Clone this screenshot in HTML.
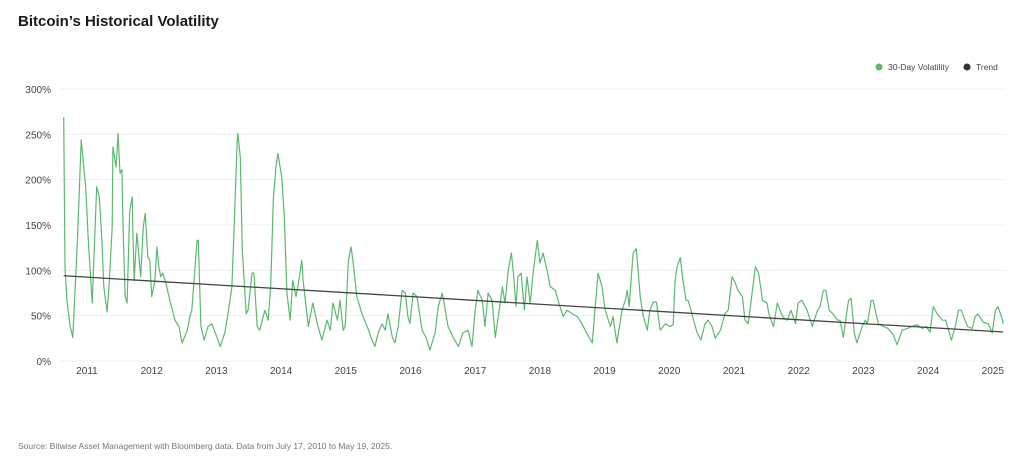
<!DOCTYPE html>
<html><head><meta charset="utf-8"><style>
body{margin:0;background:#fff;width:1024px;height:464px;overflow:hidden;font-family:"Liberation Sans",sans-serif;}
</style></head><body>
<svg width="1024" height="464" style="position:absolute;left:0;top:0">
<text x="18" y="26" font-size="15" font-weight="bold" fill="#1a1a1a">Bitcoin’s Historical Volatility</text>
<g>
<circle cx="879" cy="67" r="3.5" fill="#5cb870"/>
<text x="888" y="70" font-size="8.5" fill="#444">30-Day Volatility</text>
<circle cx="967" cy="67" r="3.5" fill="#333"/>
<text x="976" y="70" font-size="8.5" fill="#444">Trend</text>
</g>
<g id="grid"></g><g id="yt"></g><g id="xt"></g><g id="series"></g>
<text x="18" y="449" font-size="8.5" fill="#777">Source: Bitwise Asset Management with Bloomberg data. Data from July 17, 2010 to May 19, 2025.</text>
</svg>
<script>
const yTicks=[0,50,100,150,200,250,300];
const years=[2011,2012,2013,2014,2015,2016,2017,2018,2019,2020,2021,2022,2023,2024,2025];
const dates=[2010.64,2010.66,2010.69,2010.74,2010.78,2010.85,2010.88,2010.91,2010.94,2010.98,2011.02,2011.03,2011.08,2011.11,2011.15,2011.19,2011.23,2011.26,2011.31,2011.34,2011.39,2011.40,2011.45,2011.48,2011.51,2011.54,2011.56,2011.59,2011.62,2011.66,2011.70,2011.71,2011.73,2011.77,2011.79,2011.83,2011.87,2011.90,2011.94,2011.97,2012.00,2012.05,2012.08,2012.11,2012.14,2012.17,2012.22,2012.28,2012.36,2012.42,2012.47,2012.55,2012.59,2012.62,2012.70,2012.72,2012.76,2012.81,2012.87,2012.93,2013.01,2013.06,2013.13,2013.18,2013.24,2013.27,2013.32,2013.33,2013.37,2013.40,2013.46,2013.49,2013.55,2013.58,2013.63,2013.67,2013.75,2013.80,2013.84,2013.88,2013.92,2013.95,2014.01,2014.05,2014.09,2014.14,2014.18,2014.23,2014.26,2014.32,2014.34,2014.42,2014.49,2014.56,2014.63,2014.71,2014.76,2014.80,2014.87,2014.91,2014.96,
2014.99,2015.04,2015.08,2015.11,2015.17,2015.25,2015.33,2015.39,2015.45,2015.50,2015.56,2015.61,2015.65,2015.72,2015.76,2015.81,2015.87,2015.92,2015.96,2015.99,2016.04,2016.10,2016.18,2016.24,2016.30,2016.38,2016.43,2016.49,2016.52,2016.58,2016.66,2016.74,2016.81,2016.89,2016.95,2017.00,2017.04,2017.11,2017.15,2017.20,2017.26,2017.31,2017.35,2017.42,2017.46,2017.51,2017.56,2017.59,2017.63,2017.66,2017.71,2017.76,2017.80,2017.85,2017.90,2017.96,2018.00,2018.05,2018.11,2018.16,2018.24,2018.28,2018.36,2018.42,2018.50,2018.58,2018.65,2018.70,2018.76,2018.81,2018.85,2018.90,2018.96,2019.01,2019.09,2019.13,2019.19,2019.27,2019.32,2019.35,2019.38,2019.44,2019.49,2019.55,2019.60,2019.66,2019.70,2019.75,2019.80,2019.86,2019.94,2020.01,
2020.06,2020.09,2020.12,2020.17,2020.21,2020.26,2020.29,2020.35,2020.43,2020.49,2020.55,2020.60,2020.66,2020.71,2020.79,2020.86,2020.91,2020.97,2021.02,2021.06,2021.13,2021.17,2021.22,2021.28,2021.33,2021.38,2021.44,2021.51,2021.54,2021.61,2021.67,2021.75,2021.82,2021.88,2021.95,2021.99,2022.05,2022.13,2022.21,2022.29,2022.33,2022.38,2022.42,2022.47,2022.53,2022.60,2022.64,2022.69,2022.77,2022.81,2022.86,2022.90,2022.98,2023.03,2023.06,2023.12,2023.15,2023.23,2023.31,2023.38,2023.46,2023.52,2023.60,2023.68,2023.75,2023.83,2023.91,2023.97,2024.03,2024.08,2024.14,2024.22,2024.27,2024.30,2024.36,2024.42,2024.47,2024.51,2024.61,2024.68,2024.73,2024.77,2024.85,2024.93,2024.99,2025.04,2025.08,2025.15,2025.16];
const vol=[269,104,67,38,26,130,185,244,222,192,133,122,64,119,192,181,133,82,54,82,148,236,214,251,207,211,141,71,64,166,181,141,89,141,126,93,148,163,115,111,71,89,126,104,93,97,86,67,45,38,20,34,49,56,133,133,38,23,38,41,26,16,31,52,82,141,240,251,225,122,52,56,97,97,38,34,56,45,82,178,214,229,203,159,75,45,89,71,82,111,89,38,64,41,23,45,34,64,45,67,34,38,
111,126,111,71,52,38,26,16,31,41,34,52,26,20,38,78,75,49,41,75,71,34,26,12,31,60,75,64,38,26,16,31,34,16,56,78,67,38,75,67,26,45,82,64,100,119,97,60,93,97,56,93,64,100,133,108,119,100,82,78,67,49,56,52,49,41,34,26,20,56,97,82,56,38,49,20,56,67,78,60,119,124,71,49,34,56,65,65,34,41,38,40,
89,104,114,89,67,67,52,31,23,41,45,38,25,34,52,56,93,86,78,71,45,41,75,104,97,67,64,52,38,64,49,45,56,41,64,67,56,38,56,60,78,78,56,52,45,45,26,67,69,31,20,38,45,41,67,67,41,38,36,29,18,34,36,38,40,36,38,32,60,52,45,45,38,23,38,56,56,38,36,49,52,43,41,31,56,60,45,41,29];
const trendDates=[2010.64,2025.16];
const trendVals=[94,32];
const NS="http://www.w3.org/2000/svg";
const X=t=>87+(t-2011)*64.7;
const Y=v=>361-v*0.9067;
function mk(tag,attrs,parent){const e=document.createElementNS(NS,tag);for(const k in attrs)e.setAttribute(k,attrs[k]);document.getElementById(parent).appendChild(e);return e;}
yTicks.forEach(v=>{
 const g=mk('line',{x1:60,x2:1006,y1:Y(v),y2:Y(v),stroke:'#efefef','stroke-width':1},'grid');
 
 
 const t=mk('text',{x:51,y:Y(v)+4,'font-size':10,fill:'#444','text-anchor':'end'},'yt');
 t.textContent=v+'%';
 
 
});
years.forEach(y=>{
 const t=mk('text',{x:X(y),y:374,'font-size':10,fill:'#444','text-anchor':'middle'},'xt');
 t.textContent=y;
 
 
});
const vl=mk('polyline',{points:dates.map((d,i)=>X(d).toFixed(1)+','+Y(vol[i]).toFixed(1)).join(' '),fill:'none',stroke:'#5cb870','stroke-width':1.2,'stroke-linejoin':'round'},'series');


const tl=mk('line',{x1:X(trendDates[0]),y1:Y(trendVals[0]),x2:X(trendDates[1]),y2:Y(trendVals[1]),stroke:'#444','stroke-width':1.3},'series');


</script>
</body></html>
